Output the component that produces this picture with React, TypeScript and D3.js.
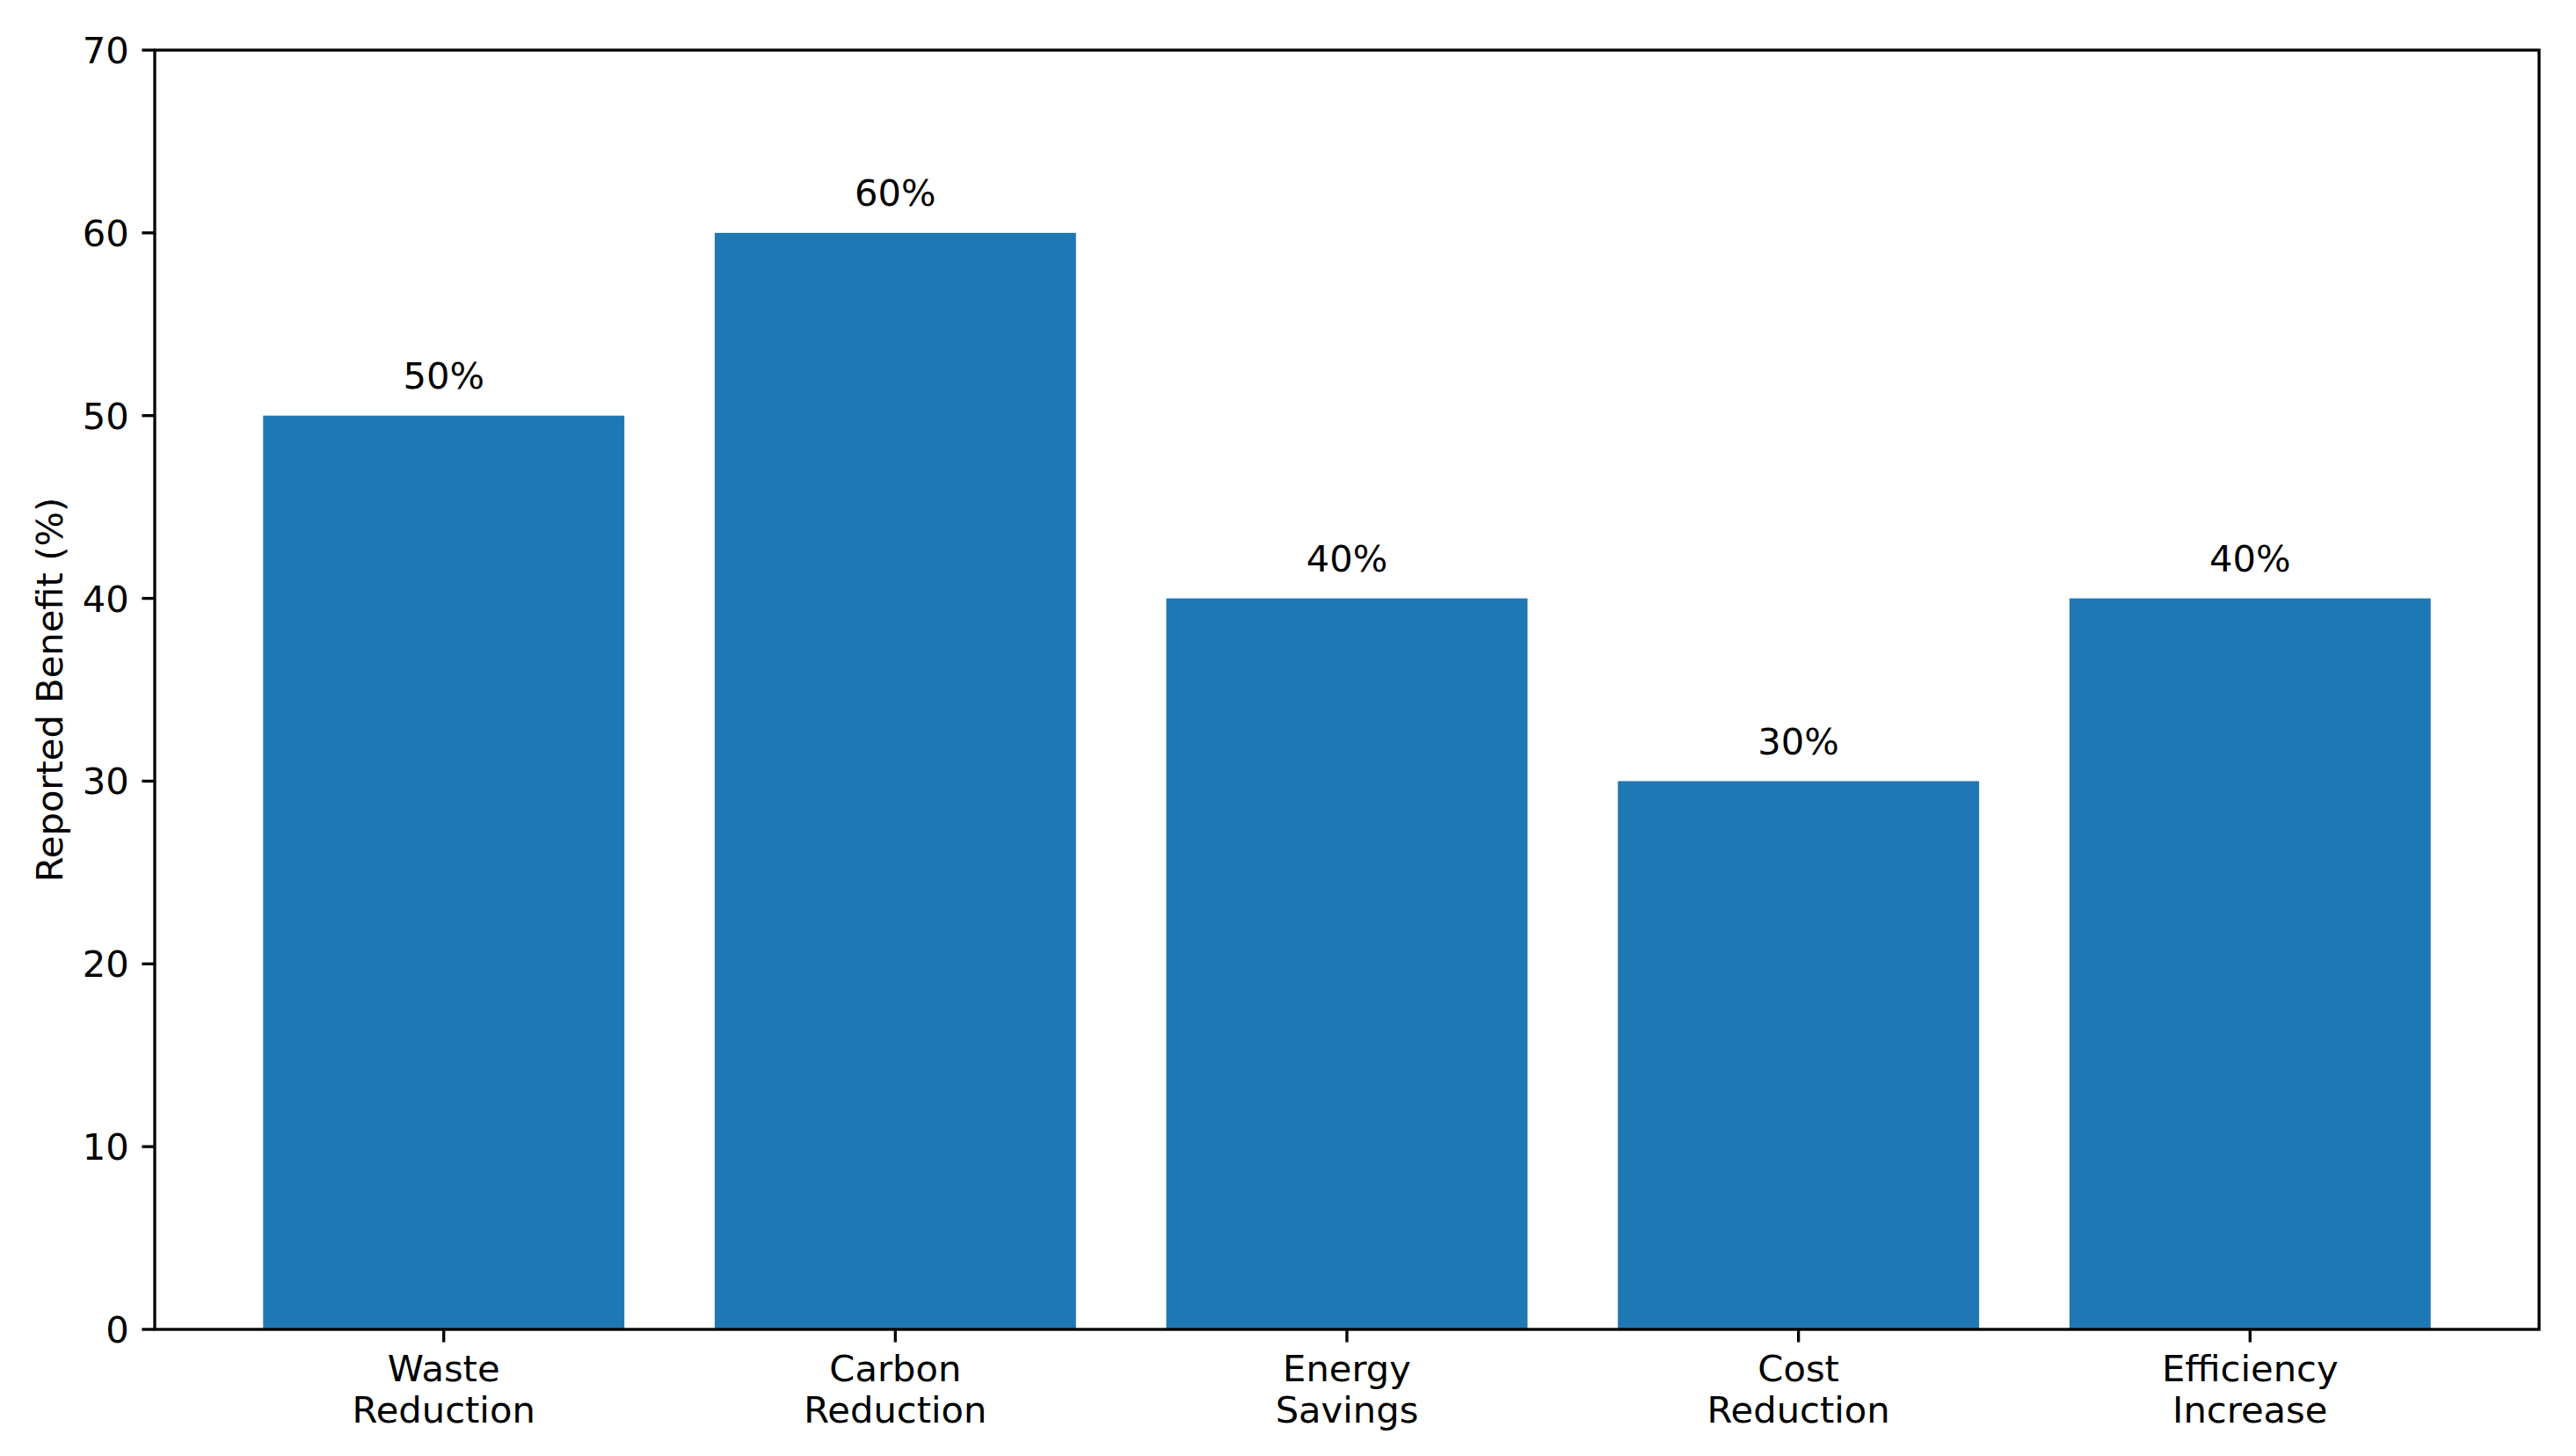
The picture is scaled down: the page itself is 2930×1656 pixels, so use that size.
import React, { useEffect } from "react";
import * as d3 from "d3";

const categories = ["Waste\nReduction", "Carbon\nReduction", "Energy\nSavings", "Cost\nReduction", "Efficiency\nIncrease"];
const values = [50, 60, 40, 30, 40];
const yTicks = [0, 10, 20, 30, 40, 50, 60, 70];
const yLabel = "Reported Benefit (%)";

const W = 2930;
const H = 1656;
const M = { left: 176, right: 2888, top: 57, bottom: 1512 };
const FS = 41.67;
const BAR = "#1f77b4";
const LW = 3.33;
const TICK = 14.6;

export default function App() {
  useEffect(() => {
    document.body.style.margin = "0";
  }, []);

  const x = d3.scaleLinear().domain([-0.64, categories.length - 1 + 0.64]).range([M.left, M.right]);
  const y = d3.scaleLinear().domain([0, 70]).range([M.bottom, M.top]);
  const bw = 0.8;

  return (
    <svg width={W} height={H} viewBox={`0 0 ${W} ${H}`} style={{ display: "block", background: "#fff" }}
      fontFamily="DejaVu Sans" fontSize={FS}>
      <rect x={0} y={0} width={W} height={H} fill="#fff" />
      {values.map((v, i) => (
        <rect key={"b" + i} x={x(i - bw / 2)} y={y(v)} width={x(i + bw / 2) - x(i - bw / 2)} height={y(0) - y(v)} fill={BAR} />
      ))}
      {values.map((v, i) => (
        <text key={"l" + i} x={x(i)} y={y(v + 1) - 10} textAnchor="middle" fill="#000">{`${v}%`}</text>
      ))}
      {/* y ticks */}
      {yTicks.map((t) => (
        <g key={"yt" + t}>
          <line x1={M.left - TICK} x2={M.left} y1={y(t)} y2={y(t)} stroke="#000" strokeWidth={LW} />
          <text x={M.left - TICK - 14.6} y={y(t) + 15} textAnchor="end" fill="#000">{t}</text>
        </g>
      ))}
      {/* x ticks */}
      {categories.map((c, i) => (
        <g key={"xt" + i}>
          <line x1={x(i)} x2={x(i)} y1={M.bottom} y2={M.bottom + TICK} stroke="#000" strokeWidth={LW} />
          {c.split("\n").map((line, j) => (
            <text key={j} x={x(i)} y={1571 + j * 47} textAnchor="middle" fill="#000">{line}</text>
          ))}
        </g>
      ))}
      {/* frame */}
      <rect x={M.left} y={M.top} width={M.right - M.left} height={M.bottom - M.top} fill="none" stroke="#000" strokeWidth={LW} />
      <text transform={`translate(71,${(M.top + M.bottom) / 2}) rotate(-90)`} textAnchor="middle" fill="#000">{yLabel}</text>
    </svg>
  );
}
